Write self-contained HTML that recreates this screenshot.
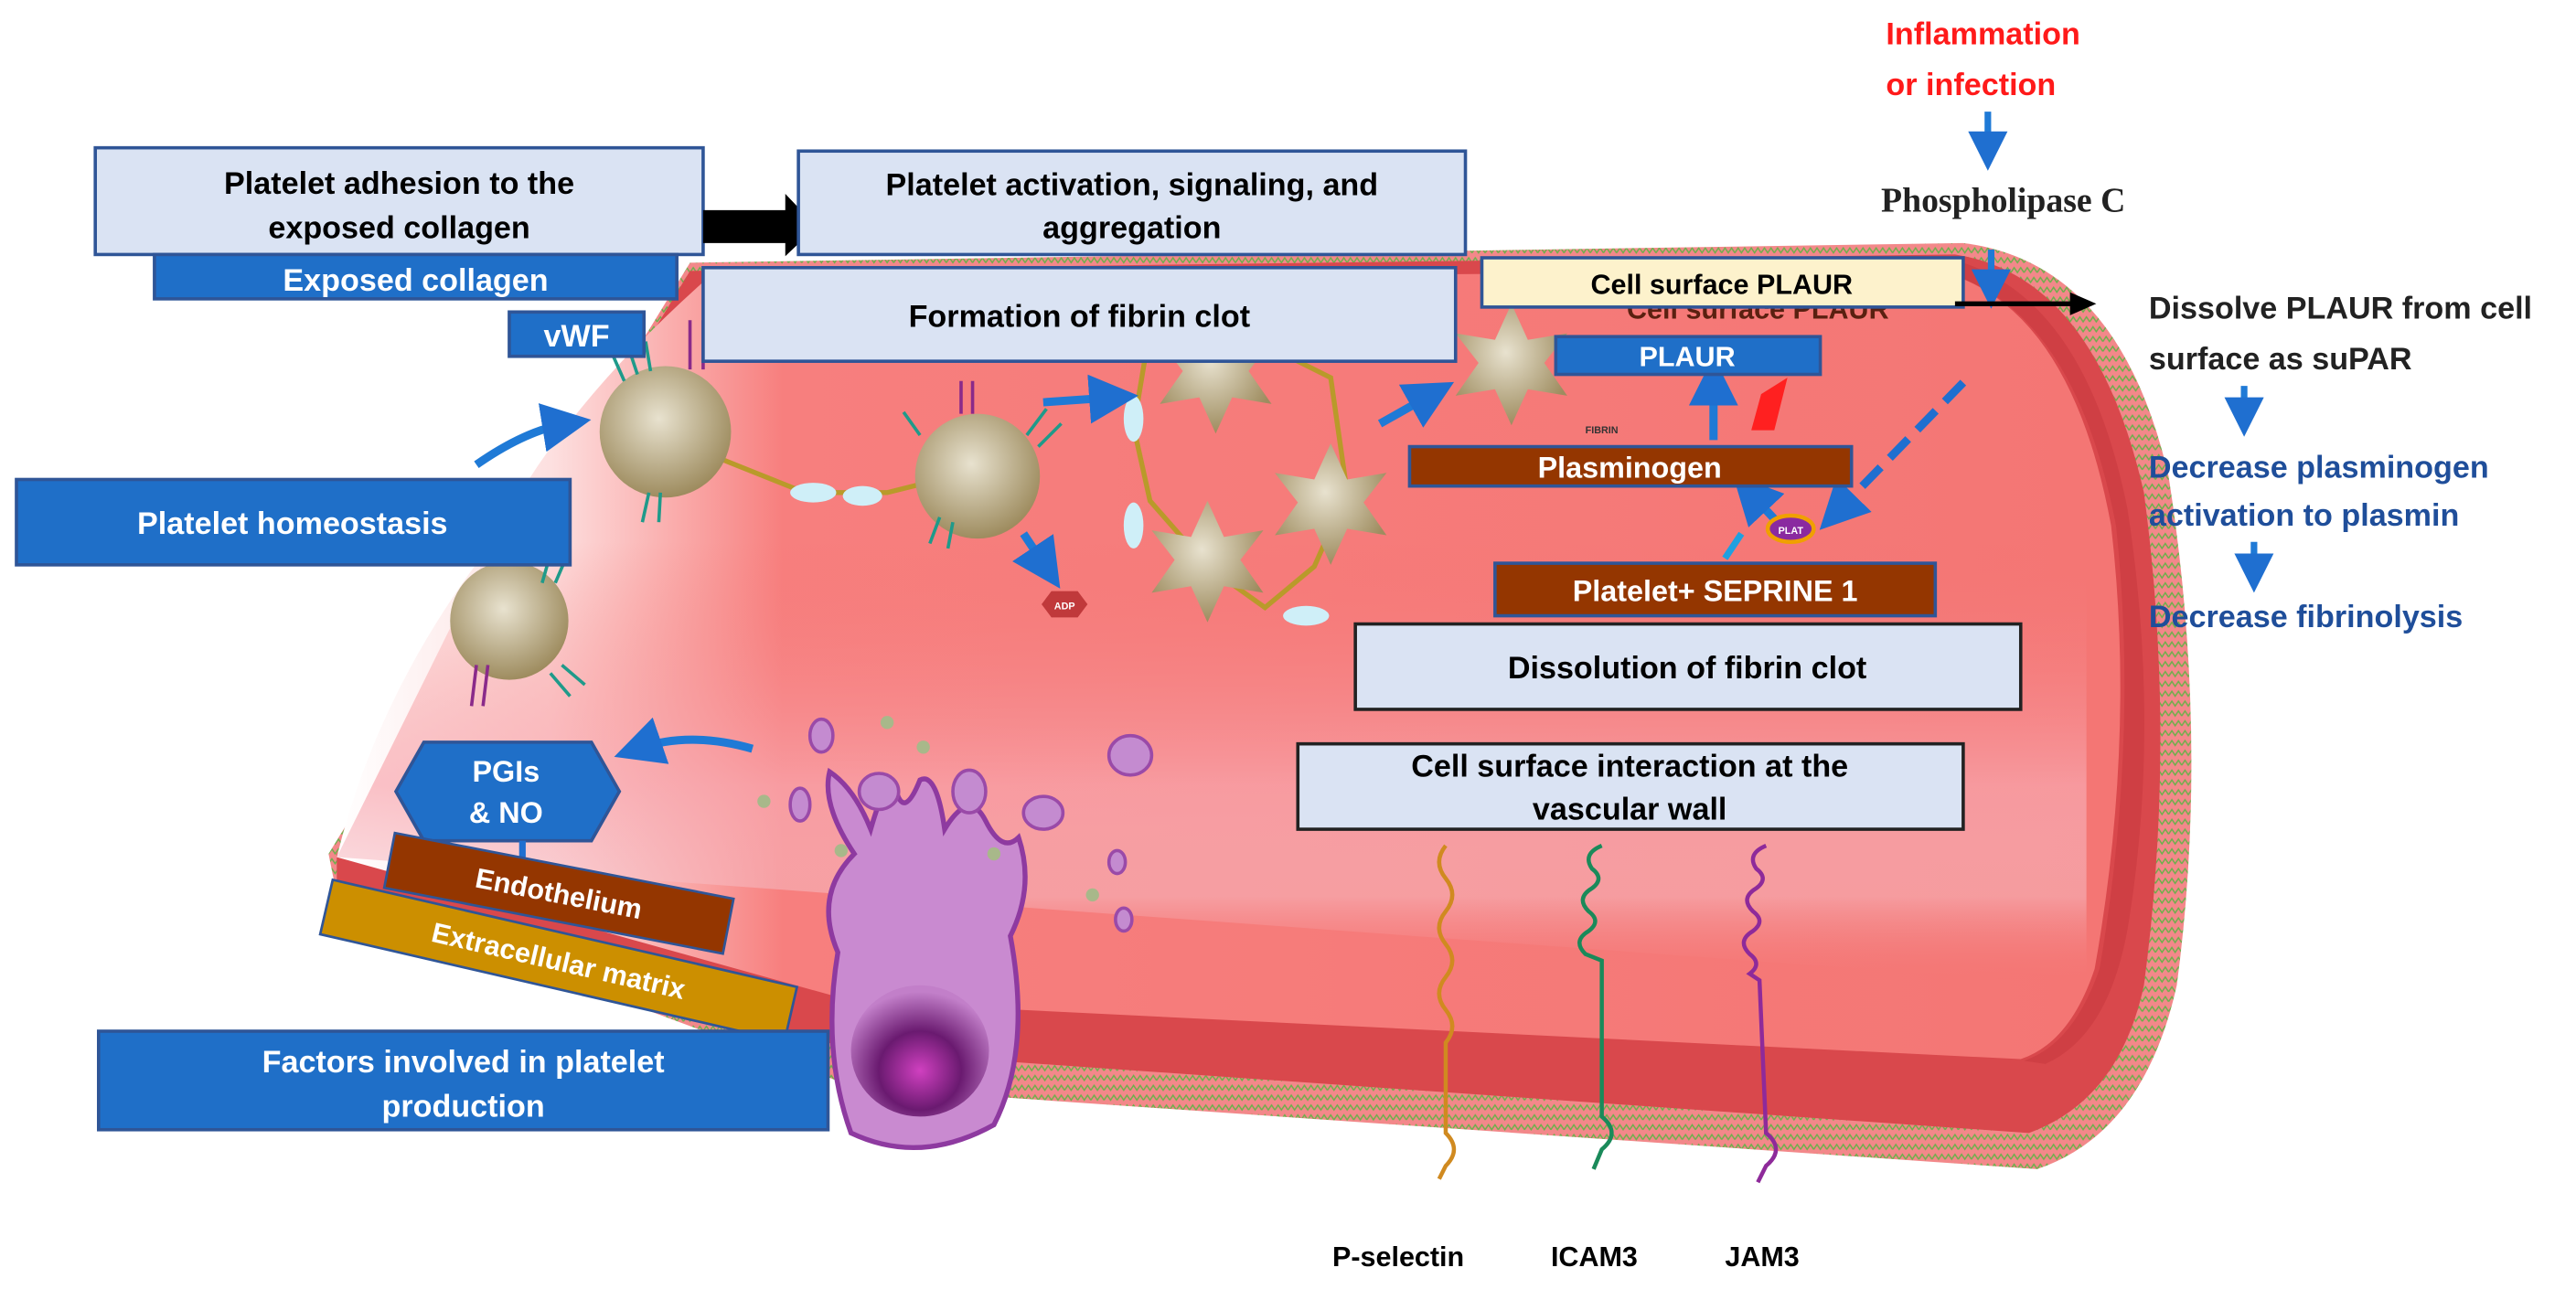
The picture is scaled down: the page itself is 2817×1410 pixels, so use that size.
<!DOCTYPE html>
<html><head><meta charset="utf-8"><style>
html,body{margin:0;padding:0;background:#fff;}
svg{display:block;}
text{font-family:"Liberation Sans",sans-serif;font-weight:bold;}
</style></head><body>
<svg width="2817" height="1410" viewBox="0 0 1568 785" preserveAspectRatio="none" xmlns="http://www.w3.org/2000/svg">
<defs>
<linearGradient id="lg" x1="0" y1="0" x2="1" y2="0">
<stop offset="0" stop-color="#ffffff"/><stop offset="0.12" stop-color="#fde0e0"/><stop offset="0.25" stop-color="#f77f7e"/><stop offset="1" stop-color="#f47674"/>
</linearGradient>
<linearGradient id="vg" x1="0" y1="0" x2="0" y2="1">
<stop offset="0" stop-color="#f46e6c" stop-opacity="0"/><stop offset="0.55" stop-color="#f8a8b0" stop-opacity="0.7"/><stop offset="0.8" stop-color="#f6c0c8" stop-opacity="0.5"/><stop offset="1" stop-color="#f46e6c" stop-opacity="0"/>
</linearGradient>
<radialGradient id="pl" cx="0.45" cy="0.4" r="0.6"><stop offset="0" stop-color="#e8e2cf"/><stop offset="1" stop-color="#9e8c5f"/></radialGradient>
<radialGradient id="mk" cx="0.5" cy="0.65" r="0.6"><stop offset="0" stop-color="#d040c0"/><stop offset="0.5" stop-color="#6a1a70"/><stop offset="1" stop-color="#c27fc9"/></radialGradient>
<pattern id="zz" width="8" height="6" patternUnits="userSpaceOnUse"><rect width="8" height="6" fill="#f3888a"/><path d="M0 4 L2 1 L4 4 L6 1 L8 4" stroke="#6bb04a" stroke-width="0.8" fill="none"/></pattern>
<marker id="ab" markerWidth="6" markerHeight="6" refX="3" refY="3" orient="auto"><path d="M0 0 L6 3 L0 6z" fill="#1f6fd0"/></marker>
</defs>
<path d="M420 160 L1195 148 Q1290 160 1320 290 Q1345 450 1325 600 Q1305 690 1240 712 L520 662 L205 545 L200 520 Z" fill="url(#zz)"/>
<path d="M420 165 L1190 155 Q1275 168 1305 300 Q1325 450 1305 600 Q1290 670 1235 690 L520 640 L205 540 L205 520 Z" fill="#d9484c"/>
<path d="M430 170 L1180 165 Q1260 185 1285 320 Q1300 450 1275 590 Q1260 635 1230 645 L520 610 L205 522 Q230 420 300 330 Q340 250 430 170 Z" fill="url(#lg)"/>
<path d="M300 330 L1270 330 L1270 600 L205 522 Z" fill="url(#vg)"/>
<path d="M1180 165 Q1262 185 1288 320 Q1302 450 1278 590 Q1262 636 1232 646 L1245 648 Q1285 630 1296 560 Q1315 440 1295 310 Q1270 185 1195 160Z" fill="#cf3f44"/>
<g stroke="#b99a2a" stroke-width="3" fill="none">
<path d="M440 280 L490 300 L540 300 L560 295"/>
<path d="M700 200 L760 205 L810 230 L820 300 L800 345 L770 370 L735 345 L700 305 L690 260 Z"/>
</g>
<g fill="#cfeff8"><ellipse cx="495" cy="300" rx="14" ry="6"/><ellipse cx="525" cy="302" rx="12" ry="6"/><ellipse cx="690" cy="255" rx="6" ry="14"/><ellipse cx="795" cy="375" rx="14" ry="6"/><ellipse cx="690" cy="320" rx="6" ry="14"/></g>
<circle cx="405" cy="263" r="40" fill="url(#pl)"/>
<circle cx="595" cy="290" r="38" fill="url(#pl)"/>
<circle cx="310" cy="378" r="36" fill="url(#pl)"/>
<g fill="url(#pl)">
<path d="M740 190 l10 22 24 -4 -14 18 14 20 -24 -4 -10 22 -10 -22 -24 4 14 -20 -14 -18 24 4z"/>
<path d="M810 270 l10 22 24 -4 -14 18 14 20 -24 -4 -10 22 -10 -22 -24 4 14 -20 -14 -18 24 4z"/>
<path d="M735 305 l10 22 24 -4 -14 18 14 20 -24 -4 -10 22 -10 -22 -24 4 14 -20 -14 -18 24 4z"/>
<path d="M920 185 l10 22 24 -4 -14 18 14 20 -24 -4 -10 22 -10 -22 -24 4 14 -20 -14 -18 24 4z"/>
</g>
<g stroke="#1f9a8a" stroke-width="2"><path d="M380 232 l-8 -18 M388 228 l-6 -18 M396 226 l-3 -18 M560 265 l-10 -14 M625 265 l12 -16 M632 272 l14 -14 M330 355 l4 -14 M338 355 l6 -14 M335 410 l12 14 M342 405 l14 12 M395 300 l-4 18 M402 300 l-1 18 M572 315 l-6 16 M580 318 l-3 16"/></g>
<g stroke="#8a2a8a" stroke-width="2"><path d="M420 225 l0 -30 M428 225 l0 -30 M585 252 l0 -20 M592 252 l0 -20 M290 405 l-3 25 M297 405 l-3 25"/></g>
<polygon points="640,360 656,360 662,368 656,376 640,376 634,368" fill="#c0393b"/>
<text x="648" y="371" font-size="6" fill="#fff" text-anchor="middle">ADP</text>
<path d="M520 520 Q500 490 505 470 Q520 480 530 505 Q540 470 545 480 Q550 500 560 475 Q570 470 575 505 Q590 480 600 500 Q610 520 620 510 Q630 540 615 570 Q628 640 605 685 Q560 710 518 690 Q500 640 510 580 Q495 545 520 520Z" fill="#c98ad0" stroke="#8e3aa0" stroke-width="3"/>
<ellipse cx="560" cy="640" rx="42" ry="40" fill="url(#mk)"/>
<g fill="#c48bd0" stroke="#9a4aa8" stroke-width="2">
<ellipse cx="500" cy="448" rx="7" ry="10"/><ellipse cx="535" cy="482" rx="12" ry="11"/><ellipse cx="590" cy="482" rx="10" ry="13"/><ellipse cx="635" cy="495" rx="12" ry="10"/><ellipse cx="688" cy="460" rx="13" ry="12"/><ellipse cx="487" cy="490" rx="6" ry="10"/><ellipse cx="680" cy="525" rx="5" ry="7"/><ellipse cx="684" cy="560" rx="5" ry="7"/></g>
<g fill="#a8b88a"><circle cx="540" cy="440" r="4"/><circle cx="562" cy="455" r="4"/><circle cx="465" cy="488" r="4"/><circle cx="512" cy="518" r="4"/><circle cx="605" cy="520" r="4"/><circle cx="665" cy="545" r="4"/></g>
<path d="M880 515 q-8 10 0 20 q8 10 0 20 q-8 10 0 20 q8 10 0 20 q-8 10 0 20 q8 10 0 20 L880 690 q10 10 0 20 l-4 8" stroke="#d08a20" stroke-width="2.5" fill="none"/>
<path d="M975 515 q-12 5 -6 14 q8 6 0 12 q-10 6 -2 14 q8 6 0 12 q-10 6 -2 14 l10 4 L975 680 q12 10 0 20 l-5 12" stroke="#1a8a5a" stroke-width="2.5" fill="none"/>
<path d="M1075 515 q-12 5 -6 14 q8 6 0 12 q-10 6 -2 14 q8 6 0 12 q-10 6 -2 14 q8 6 0 12 l6 4 L1075 690 q12 10 0 20 l-5 10" stroke="#8e2a9a" stroke-width="2.5" fill="none"/>
<g stroke="#1f7ad6" stroke-width="5" fill="none" marker-end="url(#ab)">
<path d="M290 283 Q320 262 345 258"/><path d="M635 245 L678 242"/><path d="M840 258 L872 240"/><path d="M458 456 Q420 445 388 456"/><path d="M1043 268 L1043 232"/><path d="M623 325 L637 346"/><path d="M1080 316 L1065 300"/>
</g>
<path d="M1195 233 L1118 312" stroke="#1f6fd0" stroke-width="5" stroke-dasharray="16 8" marker-end="url(#ab)"/>
<path d="M1060 325 L1050 340" stroke="#1fa0e0" stroke-width="4"/>
<path d="M1072 240 L1088 230 L1080 262 L1066 262Z" fill="#ff2020"/>
<ellipse cx="1090" cy="322" rx="14" ry="8" fill="#8a2aa0" stroke="#f0a000" stroke-width="2.5"/>
<text x="1090" y="325" font-size="6" fill="#fff" text-anchor="middle">PLAT</text>
<g font-size="19" text-anchor="middle">
<rect x="58" y="90" width="370" height="65" fill="#dae3f3" stroke="#2f5597" stroke-width="2"/>
<text x="243" y="118">Platelet adhesion to the</text><text x="243" y="145">exposed collagen</text>
<path d="M428 128 L478 128 L478 118 L497 138 L478 156 L478 148 L428 148Z" fill="#000"/>
<rect x="486" y="92" width="406" height="63" fill="#dae3f3" stroke="#2f5597" stroke-width="2"/>
<text x="689" y="119">Platelet activation, signaling, and</text><text x="689" y="145">aggregation</text>
<rect x="94" y="155" width="318" height="27" fill="#1f6fc8" stroke="#2f5597" stroke-width="2"/>
<text x="253" y="177" fill="#fff">Exposed collagen</text>
<rect x="428" y="163" width="458" height="57" fill="#dae3f3" stroke="#2f5597" stroke-width="2"/>
<text x="657" y="199">Formation of fibrin clot</text>
<rect x="310" y="190" width="82" height="27" fill="#1f6fc8" stroke="#2f5597" stroke-width="2"/>
<text x="351" y="211" fill="#fff">vWF</text>
<rect x="10" y="292" width="337" height="52" fill="#1f6fc8" stroke="#2f5597" stroke-width="2"/>
<text x="178" y="325" fill="#fff">Platelet homeostasis</text>
<polygon points="258,452 360,452 377,482 360,512 258,512 241,482" fill="#1f6fc8" stroke="#2f5597" stroke-width="2"/>
<text x="308" y="476" fill="#fff" font-size="18">PGIs</text><text x="308" y="501" fill="#fff" font-size="18">&amp; NO</text>
<path d="M318 512 L318 522" stroke="#1f6fd0" stroke-width="4"/>
<g transform="rotate(11 340 545)"><rect x="235" y="527" width="210" height="34" fill="#943600" stroke="#2f5597" stroke-width="1.5"/><text x="340" y="550" fill="#fff" font-size="17">Endothelium</text></g>
<g transform="rotate(13 340 585)"><rect x="195" y="568" width="290" height="34" fill="#cc8f00" stroke="#2f5597" stroke-width="1.5"/><text x="340" y="591" fill="#fff" font-size="17">Extracellular matrix</text></g>
<rect x="60" y="628" width="444" height="60" fill="#1f6fc8" stroke="#2f5597" stroke-width="2"/>
<text x="282" y="653" fill="#fff">Factors involved in platelet</text><text x="282" y="680" fill="#fff">production</text>
<text x="1070" y="194" font-size="17" fill="#5a2010">Cell surface PLAUR</text>
<rect x="902" y="157" width="293" height="30" fill="#fdf2cc" stroke="#2f5597" stroke-width="2"/>
<text x="1048" y="179" font-size="17">Cell surface PLAUR</text>
<rect x="947" y="205" width="161" height="23" fill="#1f6fc8" stroke="#2f5597" stroke-width="2"/>
<text x="1027" y="223" fill="#fff" font-size="17">PLAUR</text>
<text x="975" y="264" font-size="6" fill="#333">FIBRIN</text>
<rect x="858" y="272" width="269" height="24" fill="#943600" stroke="#2f5597" stroke-width="2"/>
<text x="992" y="291" fill="#fff" font-size="18">Plasminogen</text>
<rect x="910" y="343" width="268" height="32" fill="#943600" stroke="#2f5597" stroke-width="2"/>
<text x="1044" y="366" fill="#fff" font-size="18">Platelet+ SEPRINE 1</text>
<rect x="825" y="380" width="405" height="52" fill="#dae3f3" stroke="#222" stroke-width="2"/>
<text x="1027" y="413">Dissolution of fibrin clot</text>
<rect x="790" y="453" width="405" height="52" fill="#dae3f3" stroke="#222" stroke-width="2"/>
<text x="992" y="473">Cell surface interaction at the</text><text x="992" y="499">vascular wall</text>
</g>
<g font-size="17"><text x="811" y="771">P-selectin</text><text x="944" y="771">ICAM3</text><text x="1050" y="771">JAM3</text></g>
<g font-size="19" fill="#ff1a1a"><text x="1148" y="27">Inflammation</text><text x="1148" y="58">or infection</text></g>
<path d="M1210 68 L1210 92" stroke="#1f7ad6" stroke-width="4" marker-end="url(#ab)"/>
<text x="1145" y="129" font-size="21" style="font-family:'Liberation Serif',serif" fill="#222">Phospholipase C</text>
<path d="M1212 152 L1212 176" stroke="#1f7ad6" stroke-width="4" marker-end="url(#ab)"/>
<path d="M1190 185 L1262 185" stroke="#000" stroke-width="3"/><path d="M1260 178 L1276 185 L1260 192Z" fill="#000"/>
<g font-size="19">
<text x="1308" y="194" fill="#222">Dissolve PLAUR from cell</text>
<text x="1308" y="225" fill="#222">surface as suPAR</text>
<text x="1308" y="291" fill="#1f4e9a">Decrease plasminogen</text>
<text x="1308" y="320" fill="#1f4e9a">activation to plasmin</text>
<text x="1308" y="382" fill="#1f4e9a">Decrease fibrinolysis</text>
</g>
<path d="M1366 235 L1366 254" stroke="#1f7ad6" stroke-width="4" marker-end="url(#ab)"/>
<path d="M1372 330 L1372 349" stroke="#1f7ad6" stroke-width="4" marker-end="url(#ab)"/>
</svg>
</body></html>
